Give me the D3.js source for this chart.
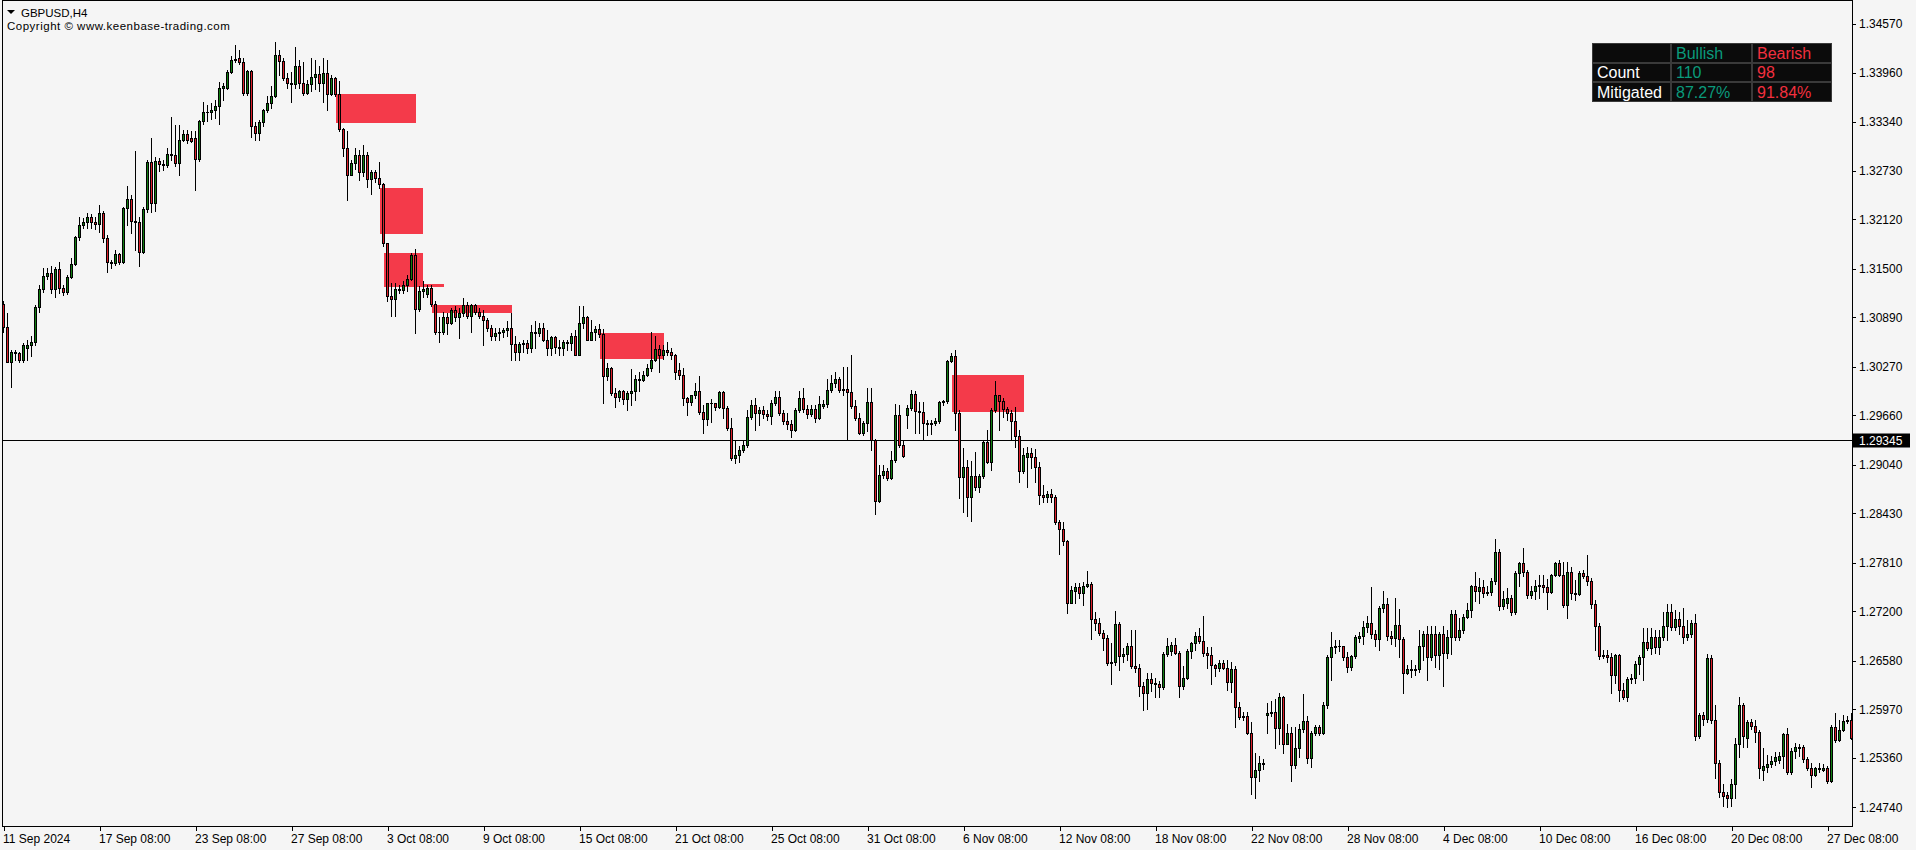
<!DOCTYPE html>
<html><head><meta charset="utf-8">
<script src="https://cdn.jsdelivr.net/npm/d3@7"></script>
<style>html,body{margin:0;padding:0;background:#f5f5f5;overflow:hidden}svg{display:block}</style>
</head><body><svg id="c" width="1916" height="850"></svg>
<script>
// ---- DATA (GBPUSD H4 candles, bar index 0 = 11 Sep 2024) ----
const open=[
1.3105,1.3077,1.3033,1.3045,1.3044,1.3035,1.3051,1.3054,1.3058,1.3102,
1.3124,1.3141,1.3144,1.3124,1.3149,1.3126,1.3121,1.3140,1.3156,1.3190,
1.3205,1.3208,1.3215,1.3208,1.3206,1.3220,1.3188,1.3158,1.3157,1.3168,
1.3158,1.3226,1.3237,1.3210,1.3208,1.3171,1.3225,1.3284,1.3232,1.3285,
1.3281,1.3280,1.3294,1.3293,1.3282,1.3312,1.3319,1.3314,1.3314,1.3287,
1.3335,1.3346,1.3347,1.3349,1.3354,1.3377,1.3377,1.3397,1.3412,1.3414,
1.3409,1.3370,1.3398,1.3329,1.3320,1.3334,1.3349,1.3358,1.3367,1.3418,
1.3410,1.3389,1.3383,1.3382,1.3404,1.3383,1.3370,1.3382,1.3390,1.3394,
1.3383,1.3395,1.3369,1.3389,1.3369,1.3325,1.3301,1.3268,1.3282,1.3292,
1.3271,1.3292,1.3262,1.3271,1.3264,1.3256,1.3182,1.3116,1.3112,1.3124,
1.3123,1.3129,1.3137,1.3167,1.3099,1.3122,1.3118,1.3126,1.3106,1.3070,
1.3071,1.3089,1.3082,1.3098,1.3089,1.3094,1.3104,1.3090,1.3104,1.3095,
1.3091,1.3086,1.3075,1.3066,1.3069,1.3071,1.3073,1.3076,1.3056,1.3046,
1.3055,1.3057,1.3050,1.3070,1.3069,1.3076,1.3061,1.3050,1.3064,1.3052,
1.3050,1.3058,1.3057,1.3066,1.3042,1.3082,1.3089,1.3061,1.3070,1.3074,
1.3068,1.3015,1.3025,1.2994,1.2989,1.2996,1.2986,1.2994,1.2997,1.3011,
1.3010,1.3016,1.3025,1.3035,1.3049,1.3041,1.3048,1.3046,1.3041,1.3023,
1.3016,1.2988,1.2983,1.2991,1.2997,1.2970,1.2961,1.2981,1.2982,1.2976,
1.2995,1.2975,1.2950,1.2912,1.2916,1.2923,1.2929,1.2964,1.2979,1.2969,
1.2972,1.2967,1.2965,1.2981,1.2989,1.2969,1.2959,1.2955,1.2947,1.2972,
1.2988,1.2974,1.2967,1.2974,1.2962,1.2978,1.2980,1.2998,1.3007,1.3011,
1.2998,1.2999,1.2995,1.2977,1.2962,1.2944,1.2956,1.2983,1.2935,1.2858,
1.2891,1.2896,1.2887,1.2910,1.2966,1.2929,1.2966,1.2975,1.2993,1.2971,
1.2970,1.2956,1.2955,1.2956,1.2959,1.2983,1.2984,1.3034,1.3040,1.2969,
1.2888,1.2901,1.2864,1.2890,1.2876,1.2890,1.2932,1.2907,1.2972,1.2991,
1.2984,1.2974,1.2969,1.2959,1.2940,1.2896,1.2914,1.2919,1.2914,1.2901,
1.2866,1.2864,1.2867,1.2863,1.2832,1.2823,1.2808,1.2731,1.2745,1.2751,
1.2743,1.2752,1.2754,1.2710,1.2705,1.2693,1.2687,1.2655,1.2656,1.2704,
1.2664,1.2666,1.2676,1.2651,1.2649,1.2626,1.2617,1.2635,1.2630,1.2629,
1.2625,1.2666,1.2670,1.2678,1.2668,1.2626,1.2636,1.2670,1.2680,1.2689,
1.2683,1.2668,1.2665,1.2652,1.2649,1.2655,1.2649,1.2631,1.2647,1.2600,
1.2587,1.2588,1.2567,1.2512,1.2521,1.2528,1.2590,1.2592,1.2594,1.2574,
1.2612,1.2554,1.2567,1.2527,1.2548,1.2572,1.2582,1.2536,1.2567,1.2575,
1.2567,1.2603,1.2662,1.2675,1.2677,1.2676,1.2662,1.2650,1.2664,1.2686,
1.2689,1.2700,1.2705,1.2691,1.2685,1.2724,1.2729,1.2689,1.2686,1.2703,
1.2685,1.2642,1.2647,1.2646,1.2647,1.2677,1.2691,1.2662,1.2691,1.2665,
1.2691,1.2668,1.2688,1.2717,1.2688,1.2696,1.2713,1.2721,1.2752,1.2745,
1.2750,1.2743,1.2744,1.2758,1.2794,1.2726,1.2730,1.2737,1.2719,1.2768,
1.2780,1.2769,1.2741,1.2746,1.2752,1.2753,1.2750,1.2744,1.2765,1.2780,
1.2766,1.2728,1.2769,1.2743,1.2742,1.2768,1.2764,1.2758,1.2729,1.2701,
1.2664,1.2665,1.2662,1.2640,1.2665,1.2621,1.2613,1.2635,1.2636,1.2654,
1.2662,1.2681,1.2674,1.2688,1.2675,1.2688,1.2701,1.2719,1.2700,1.2710,
1.2701,1.2688,1.2691,1.2705,1.2563,1.2590,1.2585,1.2661,1.2583,1.2530,
1.2493,1.2490,1.2486,1.2503,1.2554,1.2603,1.2561,1.2581,1.2576,1.2568,
1.2521,1.2524,1.2528,1.2532,1.2533,1.2538,1.2566,1.2518,1.2545,1.2548,
1.2550,1.2535,1.2523,1.2514,1.2523,1.2521,1.2523,1.2507,1.2575,1.2558,
1.2571,1.2582,1.2583];
const high=[
1.3110,1.3094,1.3048,1.3048,1.3046,1.3057,1.3060,1.3066,1.3104,1.3129,
1.3151,1.3151,1.3153,1.3152,1.3158,1.3129,1.3142,1.3163,1.3191,1.3215,
1.3213,1.3220,1.3218,1.3215,1.3230,1.3222,1.3192,1.3161,1.3173,1.3169,
1.3227,1.3254,1.3242,1.3297,1.3215,1.3227,1.3286,1.3314,1.3290,1.3289,
1.3286,1.3301,1.3340,1.3330,1.3330,1.3324,1.3324,1.3323,1.3323,1.3336,
1.3359,1.3355,1.3358,1.3361,1.3384,1.3383,1.3399,1.3417,1.3431,1.3424,
1.3414,1.3399,1.3399,1.3334,1.3336,1.3350,1.3367,1.3379,1.3434,1.3424,
1.3414,1.3395,1.3397,1.3428,1.3412,1.3409,1.3387,1.3414,1.3412,1.3404,
1.3414,1.3412,1.3393,1.3391,1.3385,1.3327,1.3323,1.3286,1.3301,1.3299,
1.3305,1.3296,1.3274,1.3274,1.3284,1.3258,1.3182,1.3132,1.3132,1.3129,
1.3135,1.3142,1.3170,1.3175,1.3128,1.3134,1.3130,1.3129,1.3110,1.3089,
1.3095,1.3094,1.3100,1.3103,1.3100,1.3113,1.3108,1.3106,1.3105,1.3100,
1.3098,1.3088,1.3079,1.3075,1.3075,1.3076,1.3084,1.3094,1.3065,1.3058,
1.3060,1.3060,1.3079,1.3084,1.3082,1.3082,1.3073,1.3066,1.3066,1.3060,
1.3061,1.3060,1.3069,1.3073,1.3103,1.3103,1.3091,1.3085,1.3078,1.3080,
1.3074,1.3031,1.3026,1.3000,1.2998,1.2998,1.2997,1.3024,1.3016,1.3020,
1.3021,1.3030,1.3070,1.3066,1.3054,1.3054,1.3058,1.3050,1.3043,1.3031,
1.3025,1.2989,1.2992,1.3006,1.3015,1.2979,1.2982,1.2986,1.2982,1.2996,
1.2996,1.2977,1.2962,1.2935,1.2928,1.2935,1.2972,1.2985,1.2988,1.2976,
1.2977,1.2972,1.2985,1.2997,1.2997,1.2972,1.2969,1.2960,1.2975,1.2997,
1.3000,1.2979,1.2979,1.2979,1.2990,1.2985,1.3011,1.3016,1.3020,1.3014,
1.3026,1.3026,1.3042,1.2985,1.2969,1.2959,1.3000,1.3000,1.2936,1.2903,
1.2903,1.2900,1.2921,1.2980,1.2979,1.2935,1.2979,1.2998,1.2997,1.2983,
1.2983,1.2960,1.2960,1.2962,1.2984,1.2985,1.3035,1.3044,1.3048,1.2972,
1.2925,1.2910,1.2909,1.2920,1.2892,1.2934,1.2947,1.2975,1.3009,1.2992,
1.2988,1.2976,1.2972,1.2976,1.2947,1.2925,1.2926,1.2925,1.2924,1.2907,
1.2878,1.2871,1.2873,1.2866,1.2834,1.2832,1.2809,1.2752,1.2755,1.2756,
1.2757,1.2770,1.2757,1.2719,1.2711,1.2696,1.2690,1.2680,1.2720,1.2706,
1.2674,1.2680,1.2696,1.2696,1.2654,1.2631,1.2643,1.2643,1.2636,1.2632,
1.2669,1.2686,1.2681,1.2686,1.2670,1.2651,1.2673,1.2681,1.2694,1.2699,
1.2714,1.2675,1.2675,1.2654,1.2659,1.2659,1.2659,1.2656,1.2651,1.2606,
1.2593,1.2593,1.2581,1.2542,1.2538,1.2535,1.2605,1.2608,1.2610,1.2617,
1.2614,1.2578,1.2575,1.2575,1.2578,1.2616,1.2588,1.2570,1.2577,1.2577,
1.2606,1.2665,1.2694,1.2684,1.2684,1.2677,1.2669,1.2665,1.2690,1.2694,
1.2708,1.2714,1.2750,1.2696,1.2726,1.2745,1.2737,1.2695,1.2737,1.2723,
1.2688,1.2652,1.2659,1.2652,1.2696,1.2695,1.2701,1.2701,1.2701,1.2694,
1.2701,1.2696,1.2722,1.2722,1.2711,1.2717,1.2731,1.2753,1.2769,1.2762,
1.2759,1.2752,1.2762,1.2811,1.2798,1.2746,1.2749,1.2741,1.2770,1.2782,
1.2799,1.2772,1.2752,1.2759,1.2765,1.2765,1.2760,1.2767,1.2782,1.2784,
1.2782,1.2782,1.2776,1.2759,1.2770,1.2772,1.2790,1.2762,1.2734,1.2705,
1.2671,1.2671,1.2668,1.2666,1.2666,1.2630,1.2637,1.2641,1.2657,1.2665,
1.2699,1.2699,1.2699,1.2696,1.2696,1.2719,1.2729,1.2729,1.2721,1.2719,
1.2724,1.2709,1.2709,1.2716,1.2592,1.2593,1.2666,1.2665,1.2602,1.2533,
1.2503,1.2493,1.2509,1.2561,1.2613,1.2605,1.2583,1.2585,1.2583,1.2571,
1.2548,1.2540,1.2538,1.2543,1.2543,1.2567,1.2573,1.2548,1.2555,1.2553,
1.2552,1.2537,1.2529,1.2525,1.2529,1.2528,1.2526,1.2577,1.2592,1.2583,
1.2590,1.2588,1.2592];
const low=[
1.3070,1.3033,1.3001,1.3035,1.3033,1.3033,1.3035,1.3040,1.3054,1.3095,
1.3121,1.3137,1.3120,1.3114,1.3120,1.3117,1.3118,1.3138,1.3155,1.3186,
1.3201,1.3201,1.3201,1.3200,1.3196,1.3183,1.3146,1.3151,1.3155,1.3156,
1.3157,1.3205,1.3195,1.3173,1.3153,1.3169,1.3221,1.3221,1.3222,1.3272,
1.3274,1.3277,1.3286,1.3279,1.3267,1.3310,1.3308,1.3309,1.3249,1.3285,
1.3331,1.3335,1.3338,1.3339,1.3331,1.3361,1.3376,1.3395,1.3409,1.3407,
1.3368,1.3368,1.3315,1.3311,1.3311,1.3329,1.3346,1.3351,1.3365,1.3393,
1.3387,1.3377,1.3359,1.3377,1.3377,1.3368,1.3369,1.3373,1.3375,1.3373,
1.3359,1.3349,1.3368,1.3367,1.3323,1.3291,1.3236,1.3267,1.3275,1.3261,
1.3266,1.3252,1.3244,1.3259,1.3251,1.3179,1.3110,1.3091,1.3091,1.3119,
1.3120,1.3122,1.3136,1.3069,1.3097,1.3114,1.3115,1.3103,1.3068,1.3058,
1.3068,1.3068,1.3080,1.3084,1.3063,1.3090,1.3088,1.3071,1.3093,1.3088,
1.3054,1.3072,1.3060,1.3060,1.3061,1.3064,1.3065,1.3035,1.3035,1.3035,
1.3046,1.3044,1.3045,1.3050,1.3066,1.3059,1.3042,1.3042,1.3044,1.3042,
1.3041,1.3048,1.3048,1.3041,1.3041,1.3075,1.3060,1.3060,1.3060,1.3064,
1.2981,1.3010,1.2992,1.2976,1.2984,1.2980,1.2972,1.2979,1.2985,1.2997,
1.3009,1.3015,1.3021,1.3034,1.3020,1.3037,1.3041,1.3037,1.3012,1.3012,
1.2979,1.2966,1.2979,1.2988,1.2967,1.2944,1.2954,1.2957,1.2972,1.2975,
1.2962,1.2947,1.2910,1.2906,1.2907,1.2920,1.2926,1.2961,1.2947,1.2954,
1.2962,1.2960,1.2955,1.2979,1.2966,1.2955,1.2949,1.2939,1.2946,1.2970,
1.2970,1.2962,1.2965,1.2957,1.2961,1.2975,1.2976,1.2995,1.3002,1.2995,
1.2992,1.2936,1.2975,1.2960,1.2942,1.2941,1.2946,1.2922,1.2842,1.2857,
1.2887,1.2885,1.2886,1.2907,1.2926,1.2913,1.2950,1.2972,1.2944,1.2944,
1.2935,1.2941,1.2943,1.2954,1.2956,1.2979,1.2981,1.3033,1.2947,1.2862,
1.2844,1.2839,1.2833,1.2872,1.2870,1.2887,1.2906,1.2897,1.2970,1.2947,
1.2964,1.2960,1.2935,1.2926,1.2882,1.2894,1.2876,1.2900,1.2882,1.2855,
1.2857,1.2857,1.2857,1.2829,1.2792,1.2803,1.2718,1.2730,1.2730,1.2737,
1.2728,1.2750,1.2685,1.2696,1.2690,1.2671,1.2652,1.2629,1.2653,1.2646,
1.2656,1.2659,1.2649,1.2644,1.2614,1.2596,1.2597,1.2620,1.2612,1.2612,
1.2623,1.2664,1.2665,1.2666,1.2612,1.2623,1.2635,1.2661,1.2671,1.2680,
1.2664,1.2649,1.2629,1.2639,1.2645,1.2647,1.2621,1.2619,1.2575,1.2585,
1.2583,1.2566,1.2491,1.2486,1.2507,1.2522,1.2567,1.2588,1.2548,1.2553,
1.2542,1.2553,1.2507,1.2523,1.2537,1.2568,1.2529,1.2524,1.2565,1.2565,
1.2566,1.2598,1.2634,1.2668,1.2670,1.2659,1.2644,1.2646,1.2661,1.2681,
1.2679,1.2694,1.2686,1.2677,1.2671,1.2719,1.2684,1.2679,1.2677,1.2663,
1.2617,1.2641,1.2638,1.2640,1.2644,1.2659,1.2634,1.2659,1.2650,1.2647,
1.2626,1.2661,1.2666,1.2684,1.2684,1.2693,1.2712,1.2713,1.2733,1.2730,
1.2738,1.2740,1.2741,1.2754,1.2721,1.2723,1.2724,1.2715,1.2717,1.2752,
1.2764,1.2737,1.2737,1.2735,1.2737,1.2744,1.2723,1.2743,1.2764,1.2764,
1.2725,1.2711,1.2735,1.2734,1.2740,1.2762,1.2753,1.2724,1.2671,1.2660,
1.2661,1.2656,1.2617,1.2630,1.2608,1.2610,1.2608,1.2630,1.2630,1.2641,
1.2634,1.2671,1.2666,1.2668,1.2666,1.2684,1.2684,1.2696,1.2696,1.2691,
1.2680,1.2684,1.2688,1.2558,1.2561,1.2577,1.2581,1.2580,1.2511,1.2487,
1.2476,1.2474,1.2476,1.2486,1.2537,1.2550,1.2550,1.2572,1.2556,1.2511,
1.2508,1.2518,1.2525,1.2527,1.2530,1.2523,1.2516,1.2516,1.2536,1.2538,
1.2531,1.2521,1.2500,1.2513,1.2518,1.2519,1.2505,1.2506,1.2556,1.2557,
1.2570,1.2580,1.2560];
const close=[
1.3077,1.3033,1.3045,1.3044,1.3035,1.3054,1.3054,1.3058,1.3102,1.3124,
1.3141,1.3144,1.3124,1.3149,1.3126,1.3121,1.3140,1.3156,1.3190,1.3205,
1.3208,1.3215,1.3208,1.3206,1.3220,1.3188,1.3158,1.3157,1.3168,1.3158,
1.3226,1.3237,1.3210,1.3208,1.3171,1.3225,1.3284,1.3232,1.3285,1.3281,
1.3280,1.3294,1.3293,1.3282,1.3312,1.3319,1.3312,1.3310,1.3287,1.3335,
1.3346,1.3347,1.3349,1.3354,1.3377,1.3379,1.3397,1.3412,1.3413,1.3409,
1.3370,1.3398,1.3329,1.3320,1.3334,1.3349,1.3358,1.3367,1.3418,1.3410,
1.3389,1.3383,1.3382,1.3404,1.3383,1.3370,1.3382,1.3390,1.3394,1.3383,
1.3395,1.3369,1.3389,1.3369,1.3325,1.3301,1.3268,1.3282,1.3292,1.3271,
1.3292,1.3262,1.3271,1.3264,1.3256,1.3182,1.3116,1.3112,1.3124,1.3123,
1.3129,1.3137,1.3167,1.3099,1.3122,1.3124,1.3126,1.3106,1.3070,1.3071,
1.3089,1.3082,1.3098,1.3089,1.3094,1.3104,1.3090,1.3104,1.3095,1.3091,
1.3086,1.3075,1.3066,1.3069,1.3071,1.3073,1.3076,1.3056,1.3046,1.3055,
1.3057,1.3050,1.3070,1.3069,1.3076,1.3061,1.3050,1.3064,1.3052,1.3050,
1.3058,1.3057,1.3066,1.3042,1.3082,1.3089,1.3061,1.3070,1.3074,1.3068,
1.3015,1.3025,1.2994,1.2989,1.2996,1.2986,1.2994,1.2997,1.3011,1.3010,
1.3016,1.3025,1.3035,1.3049,1.3041,1.3048,1.3046,1.3041,1.3020,1.3016,
1.2988,1.2983,1.2991,1.2997,1.2970,1.2961,1.2981,1.2982,1.2976,1.2995,
1.2975,1.2950,1.2912,1.2916,1.2923,1.2929,1.2964,1.2979,1.2969,1.2972,
1.2967,1.2965,1.2981,1.2989,1.2969,1.2959,1.2955,1.2947,1.2972,1.2988,
1.2974,1.2967,1.2974,1.2962,1.2980,1.2980,1.2998,1.3007,1.3011,1.2998,
1.2999,1.2995,1.2977,1.2962,1.2944,1.2956,1.2983,1.2935,1.2858,1.2891,
1.2896,1.2887,1.2910,1.2966,1.2929,1.2915,1.2975,1.2993,1.2971,1.2970,
1.2956,1.2955,1.2956,1.2959,1.2983,1.2984,1.3034,1.3040,1.2969,1.2888,
1.2901,1.2864,1.2890,1.2876,1.2890,1.2932,1.2907,1.2972,1.2991,1.2984,
1.2974,1.2969,1.2959,1.2940,1.2896,1.2916,1.2919,1.2914,1.2901,1.2866,
1.2864,1.2867,1.2863,1.2832,1.2823,1.2808,1.2731,1.2747,1.2751,1.2743,
1.2752,1.2754,1.2710,1.2705,1.2693,1.2687,1.2655,1.2656,1.2704,1.2664,
1.2666,1.2676,1.2651,1.2649,1.2626,1.2617,1.2635,1.2630,1.2629,1.2625,
1.2666,1.2677,1.2678,1.2668,1.2626,1.2636,1.2670,1.2680,1.2689,1.2683,
1.2668,1.2665,1.2652,1.2649,1.2655,1.2649,1.2631,1.2647,1.2600,1.2587,
1.2588,1.2567,1.2512,1.2521,1.2529,1.2530,1.2592,1.2594,1.2574,1.2612,
1.2554,1.2567,1.2527,1.2548,1.2572,1.2582,1.2536,1.2567,1.2575,1.2567,
1.2603,1.2662,1.2675,1.2677,1.2676,1.2662,1.2650,1.2664,1.2688,1.2689,
1.2700,1.2705,1.2691,1.2685,1.2724,1.2729,1.2689,1.2686,1.2703,1.2685,
1.2642,1.2647,1.2646,1.2647,1.2677,1.2691,1.2662,1.2691,1.2665,1.2691,
1.2668,1.2688,1.2717,1.2688,1.2696,1.2713,1.2721,1.2752,1.2745,1.2750,
1.2743,1.2744,1.2758,1.2794,1.2726,1.2735,1.2737,1.2719,1.2768,1.2780,
1.2769,1.2741,1.2746,1.2752,1.2753,1.2750,1.2744,1.2765,1.2780,1.2766,
1.2728,1.2769,1.2743,1.2742,1.2768,1.2764,1.2758,1.2729,1.2701,1.2664,
1.2665,1.2662,1.2640,1.2665,1.2621,1.2613,1.2635,1.2636,1.2654,1.2662,
1.2681,1.2674,1.2688,1.2675,1.2688,1.2701,1.2719,1.2700,1.2710,1.2701,
1.2688,1.2691,1.2705,1.2563,1.2590,1.2585,1.2661,1.2583,1.2530,1.2493,
1.2488,1.2486,1.2503,1.2554,1.2603,1.2563,1.2581,1.2576,1.2568,1.2523,
1.2526,1.2528,1.2532,1.2537,1.2538,1.2566,1.2518,1.2545,1.2550,1.2550,
1.2535,1.2523,1.2514,1.2523,1.2522,1.2523,1.2507,1.2575,1.2558,1.2571,
1.2582,1.2583,1.2561];

const xTickIndex=[0,24,48,72,96,120,144,168,192,216,240,264,288,312,336,360,384,408,432,456];
const xTickLabels=["11 Sep 2024","17 Sep 08:00","23 Sep 08:00","27 Sep 08:00","3 Oct 08:00","9 Oct 08:00","15 Oct 08:00","21 Oct 08:00","25 Oct 08:00","31 Oct 08:00","6 Nov 08:00","12 Nov 08:00","18 Nov 08:00","22 Nov 08:00","28 Nov 08:00","4 Dec 08:00","10 Dec 08:00","16 Dec 08:00","20 Dec 08:00","27 Dec 08:00"];
const yTickValues=[1.34570,1.33960,1.33340,1.32730,1.32120,1.31500,1.30890,1.30270,1.29660,1.29040,1.28430,1.27810,1.27200,1.26580,1.25970,1.25360,1.24740];
const currentPrice=1.29345;
// bearish order blocks: start bar, end bar, top price, bottom price
const obStart=[83,94,95,105,107,149,237];
const obEnd=[103,105,105,110,127,165,255];
const obTop=[1.3369,1.3251,1.3170,1.3131,1.3104,1.3069,1.3016];
const obBottom=[1.3333,1.3194,1.3127,1.3127,1.3094,1.3037,1.2970];
const tableHeader=["","Bullish","Bearish"];
const tableRows=[["Count","110","98"],["Mitigated","87.27%","91.84%"]];
const symbolTitle="GBPUSD,H4";
const copyrightText="Copyright \u00A9 www.keenbase-trading.com";

// ---- DRAW ----
const svg=d3.select("#c");
const FONT="'Liberation Sans', Arial, sans-serif";
const bullCol="#117d11", bearCol="#dc1f2a", obCol="#f43a4a";
const tealCol="#0a9a7c", redTxt="#f2303f";
const plotL=2.5, plotR=1852.5, plotT=0.5, plotB=826.5;

svg.append("rect").attr("width",1916).attr("height",850).attr("fill","#f5f5f5");

const n=close.length;
const x=d3.scaleLinear().domain([0,n-1]).range([3.5,3.5+4*(n-1)]);
const y=d3.scaleLinear().domain([1.24740,1.34570]).range([807.3,24]);

svg.append("clipPath").attr("id","pc").append("rect")
  .attr("x",3).attr("y",1).attr("width",plotR-3).attr("height",plotB-1);
const plot=svg.append("g").attr("clip-path","url(#pc)").attr("shape-rendering","crispEdges");

// order blocks (behind candles)
plot.selectAll("rect.ob").data(obStart).enter().append("rect").attr("class","ob")
  .attr("x",(d)=>Math.round(x(d)))
  .attr("width",(d,i)=>Math.round(x(obEnd[i]))-Math.round(x(d)))
  .attr("y",(d,i)=>Math.round(y(obTop[i])))
  .attr("height",(d,i)=>Math.round(y(obBottom[i]))-Math.round(y(obTop[i])))
  .attr("fill",obCol);

// current price line
const cpY=Math.round(y(currentPrice))+0.5;
plot.append("line").attr("x1",plotL).attr("x2",plotR).attr("y1",cpY).attr("y2",cpY)
  .attr("stroke","#000").attr("stroke-width",1);

const idx=d3.range(n);
// wicks
plot.selectAll("line.w").data(idx).enter().append("line").attr("class","w")
  .attr("x1",i=>x(i)).attr("x2",i=>x(i))
  .attr("y1",i=>Math.round(y(high[i])))
  .attr("y2",i=>Math.round(y(low[i]))+1)
  .attr("stroke","#000").attr("stroke-width",1);
// bodies
idx.forEach(i=>{
  const o=open[i],c=close[i];
  const t=Math.round(y(Math.max(o,c))), b=Math.round(y(Math.min(o,c)));
  const cx=x(i);
  if(b-t<1){
    plot.append("line").attr("x1",cx-1.5).attr("x2",cx+1.5).attr("y1",t+0.5).attr("y2",t+0.5)
      .attr("stroke","#000").attr("stroke-width",1);
  } else {
    plot.append("rect").attr("x",cx-1).attr("width",2).attr("y",t+0.5).attr("height",b-t)
      .attr("fill",c>=o?bullCol:bearCol).attr("stroke","#000").attr("stroke-width",1);
  }
});

// frame
svg.append("rect").attr("x",plotL).attr("y",plotT).attr("width",plotR-plotL).attr("height",plotB-plotT)
  .attr("fill","none").attr("stroke","#000").attr("stroke-width",1).attr("shape-rendering","crispEdges");

// y axis
const yAx=svg.append("g").attr("transform",`translate(${plotR-0.5},0)`)
  .call(d3.axisRight(y).tickValues(yTickValues).tickSize(4).tickPadding(3).tickFormat(d3.format(".5f")));
yAx.select(".domain").remove();
yAx.selectAll("text").attr("font-family",FONT).attr("font-size","12px").attr("fill","#000");
yAx.selectAll("line").attr("stroke","#000").attr("shape-rendering","crispEdges");

// current price label
svg.append("rect").attr("x",1853).attr("y",cpY-7).attr("width",57).attr("height",14).attr("fill","#000");
svg.append("text").attr("x",1859).attr("y",cpY).attr("dy","0.35em").text(d3.format(".5f")(currentPrice))
  .attr("font-family",FONT).attr("font-size","12px").attr("fill","#fff");

// x axis
const xAx=svg.append("g").attr("transform",`translate(0,${plotB-0.5})`)
  .call(d3.axisBottom(x).tickValues(xTickIndex).tickSize(5).tickPadding(3).tickFormat((d,i)=>xTickLabels[i]));
xAx.select(".domain").remove();
xAx.selectAll("text").attr("text-anchor","start").attr("x",-1)
  .attr("font-family",FONT).attr("font-size","12px").attr("fill","#000");
xAx.selectAll("line").attr("stroke","#000").attr("shape-rendering","crispEdges");

// title
svg.append("path").attr("d","M7,10L15,10L11,14Z").attr("fill","#000");
svg.append("text").attr("x",21).attr("y",17).text(symbolTitle)
  .attr("font-family",FONT).attr("font-size","11.5px").attr("fill","#000");
svg.append("text").attr("x",7).attr("y",29.5).text(copyrightText)
  .attr("font-family",FONT).attr("font-size","11.5px").attr("letter-spacing","0.5px").attr("fill","#000");

// stats table
const colX=[1592,1671,1752], colW=[79,81,80];
const rowY=[43,63,82], rowH=[20,19,20];
const cells=[tableHeader].concat(tableRows);
const tg=svg.append("g").attr("shape-rendering","crispEdges");
cells.forEach((row,r)=>row.forEach((txt,cI)=>{
  tg.append("rect").attr("x",colX[cI]+0.5).attr("y",rowY[r]+0.5).attr("width",colW[cI]-1).attr("height",rowH[r]-1)
    .attr("fill","#0b0b0b").attr("stroke","#3a3a3a").attr("stroke-width",1);
  let col="#fff";
  if(cI===1) col=tealCol;
  if(cI===2) col=redTxt;
  if(txt) tg.append("text").attr("x",colX[cI]+5).attr("y",rowY[r]+rowH[r]/2).attr("dy","0.36em").text(txt)
    .attr("font-family",FONT).attr("font-size","16px").attr("fill",col).attr("shape-rendering","auto");
}));
</script></body></html>
